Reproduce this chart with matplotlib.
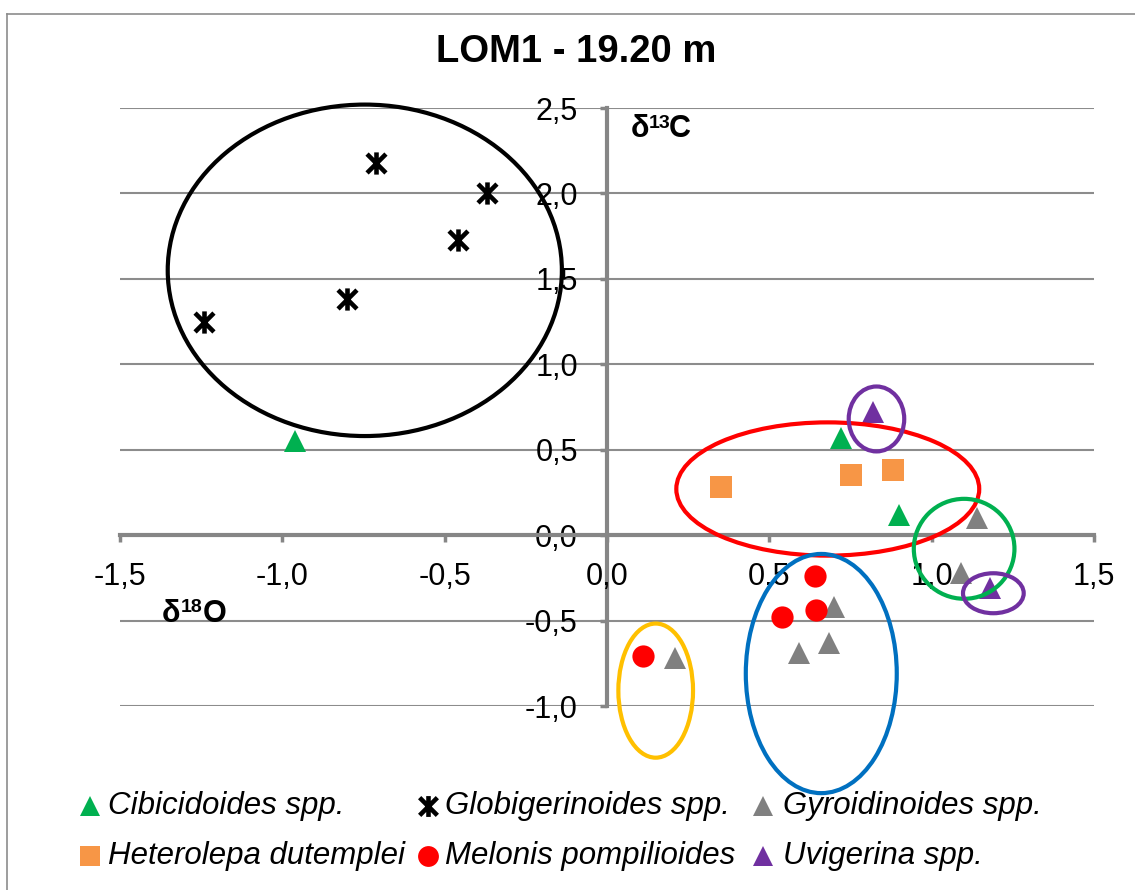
import matplotlib
matplotlib.use("Agg")
import matplotlib.pyplot as plt
from matplotlib.patches import Ellipse
from matplotlib.lines import Line2D
from matplotlib.path import Path
from matplotlib.ticker import FuncFormatter

plt.rcParams['font.family'] = ['Liberation Sans', 'DejaVu Sans']

# ---- data (delta18O, delta13C) ----
cibicidoides_x = [-0.96, 0.72, 0.90]
cibicidoides_y = [0.55, 0.57, 0.12]
globigerinoides_x = [-1.24, -0.80, -0.71, -0.46, -0.37]
globigerinoides_y = [1.25, 1.38, 2.18, 1.73, 2.00]
gyroidinoides_x = [1.14, 1.09, 0.70, 0.685, 0.59, 0.21]
gyroidinoides_y = [0.10, -0.22, -0.42, -0.63, -0.69, -0.72]
heterolepa_x = [0.35, 0.75, 0.88]
heterolepa_y = [0.28, 0.35, 0.38]
melonis_x = [0.64, 0.645, 0.54, 0.11]
melonis_y = [-0.24, -0.44, -0.48, -0.71]
uvigerina_x = [0.82, 1.18]
uvigerina_y = [0.72, -0.31]

series_names = ["Cibicidoides spp.", "Globigerinoides spp.", "Gyroidinoides spp.",
                "Heterolepa dutemplei", "Melonis pompilioides", "Uvigerina spp."]
series_colors = ["#00B050", "#000000", "#808080", "#F79646", "#FF0000", "#7030A0"]

# grouping ellipses (centre x, centre y, width, height, colour)
ell_cx = [-0.746, 0.68, 0.83, 1.10, 1.19, 0.15, 0.66]
ell_cy = [1.55, 0.27, 0.68, -0.08, -0.34, -0.91, -0.81]
ell_w = [1.214, 0.933, 0.171, 0.31, 0.187, 0.23, 0.465]
ell_h = [1.94, 0.78, 0.38, 0.585, 0.234, 0.785, 1.40]
ell_col = ["#000000", "#FF0000", "#7030A0", "#00B050", "#7030A0", "#FFC000", "#0070C0"]

title = "LOM1 - 19.20 m"
x_ticks = [-1.5, -1.0, -0.5, 0.0, 0.5, 1.0, 1.5]
y_ticks = [-1.0, -0.5, 0.0, 0.5, 1.0, 1.5, 2.0, 2.5]

W, H = 1135, 890
fig = plt.figure(figsize=(W / 100, H / 100), dpi=100)
fig.patch.set_facecolor("white")

def fx(px):
    return px / W

def fy(py):
    return 1 - py / H

ax = fig.add_axes([fx(120), fy(706), (1094 - 120) / W, (706 - 108) / H])
ax.set_xlim(x_ticks[0], x_ticks[-1])
ax.set_ylim(y_ticks[0], y_ticks[-1])

grey = "#868686"
for s in ["top", "right"]:
    ax.spines[s].set_visible(False)
ax.spines["left"].set_position(("data", 0))
ax.spines["bottom"].set_position(("data", 0))
for s in ["left", "bottom"]:
    ax.spines[s].set_color(grey)
    ax.spines[s].set_linewidth(3)
    ax.spines[s].set_zorder(2.5)

fmt = FuncFormatter(lambda v, _: f"{v:.1f}".replace(".", ","))
ax.set_xticks(x_ticks)
ax.set_yticks(y_ticks)
ax.xaxis.set_major_formatter(fmt)
ax.yaxis.set_major_formatter(fmt)
ax.tick_params(axis="x", direction="out", length=5, width=2.5, color=grey,
               labelsize=22, pad=14)
ax.tick_params(axis="y", direction="out", length=5, width=2.5, color=grey,
               labelsize=22, pad=16)
ax.yaxis.grid(True, color="#8C8C8C", linewidth=1.5)
ax.set_axisbelow(True)
ax.xaxis.set_zorder(2.8)  # x tick labels drawn above the vertical axis line

# custom asterisk marker (vertical bar + X)
star = Path([(0, -1), (0, 1), (-0.85, -0.85), (0.85, 0.85), (-0.85, 0.85), (0.85, -0.85)],
            [Path.MOVETO, Path.LINETO, Path.MOVETO, Path.LINETO, Path.MOVETO, Path.LINETO])

series = [
    (cibicidoides_x, cibicidoides_y, "^"),
    (globigerinoides_x, globigerinoides_y, star),
    (gyroidinoides_x, gyroidinoides_y, "^"),
    (heterolepa_x, heterolepa_y, "s"),
    (melonis_x, melonis_y, "o"),
    (uvigerina_x, uvigerina_y, "^"),
]
for (xs, ys, m), c in zip(series, series_colors):
    if m is star:
        ax.plot(xs, ys, linestyle="none", marker=m, ms=16, mec=c, mfc="none",
                mew=3.3, zorder=3, clip_on=False)
    else:
        ax.plot(xs, ys, linestyle="none", marker=m, ms=16, mfc=c, mec=c,
                mew=0, zorder=3, clip_on=False)

for cx, cy, w, h, c in zip(ell_cx, ell_cy, ell_w, ell_h, ell_col):
    ax.add_patch(Ellipse((cx, cy), w, h, fill=False, edgecolor=c, linewidth=3,
                         zorder=4, clip_on=False))

# title
fig.text(fx(576.5), fy(52.5), title, ha="center", va="center",
         fontsize=27.5, fontweight="bold")

# axis labels with raised isotope numbers
def iso_label(x_delta, x_sup, x_elem, baseline, sup_base, sup, elem):
    fig.text(fx(x_delta), fy(baseline), "δ", ha="left", va="baseline",
             fontsize=22, fontweight="bold")
    fig.text(fx(x_sup), fy(sup_base), sup, ha="left", va="baseline",
             fontsize=14, fontweight="bold")
    fig.text(fx(x_elem), fy(baseline), elem, ha="left", va="baseline",
             fontsize=22, fontweight="bold")

iso_label(631, 649, 669, 137, 128, "13", "C")
iso_label(162, 181, 203, 622, 612, "18", "O")

# legend (manual, Excel-like layout)
leg_marker_x = [90, 428, 763, 90, 428, 763]
leg_text_x = [108, 445, 783, 108, 445, 783]
leg_y = [806, 806, 806, 856, 856, 856]
for (xs, ys, m), c, name, mx, tx, yy in zip(series, series_colors, series_names,
                                             leg_marker_x, leg_text_x, leg_y):
    if m is star:
        ln = Line2D([fx(mx)], [fy(yy)], transform=fig.transFigure, linestyle="none",
                    marker=m, ms=15, mec=c, mfc="none", mew=3.3)
    else:
        ln = Line2D([fx(mx)], [fy(yy)], transform=fig.transFigure, linestyle="none",
                    marker=m, ms=15, mfc=c, mec=c, mew=0)
    fig.add_artist(ln)
    fig.text(fx(tx), fy(yy), name, ha="left", va="center", fontsize=22.5,
             fontstyle="italic")

# outer chart border
fig.add_artist(Line2D([fx(7), fx(1135)], [fy(14), fy(14)], transform=fig.transFigure,
                      color="#8C8C8C", linewidth=1.2))
fig.add_artist(Line2D([fx(7), fx(7)], [fy(14), 0], transform=fig.transFigure,
                      color="#8C8C8C", linewidth=1.2))

fig.savefig("out.png", dpi=100, facecolor="white")
